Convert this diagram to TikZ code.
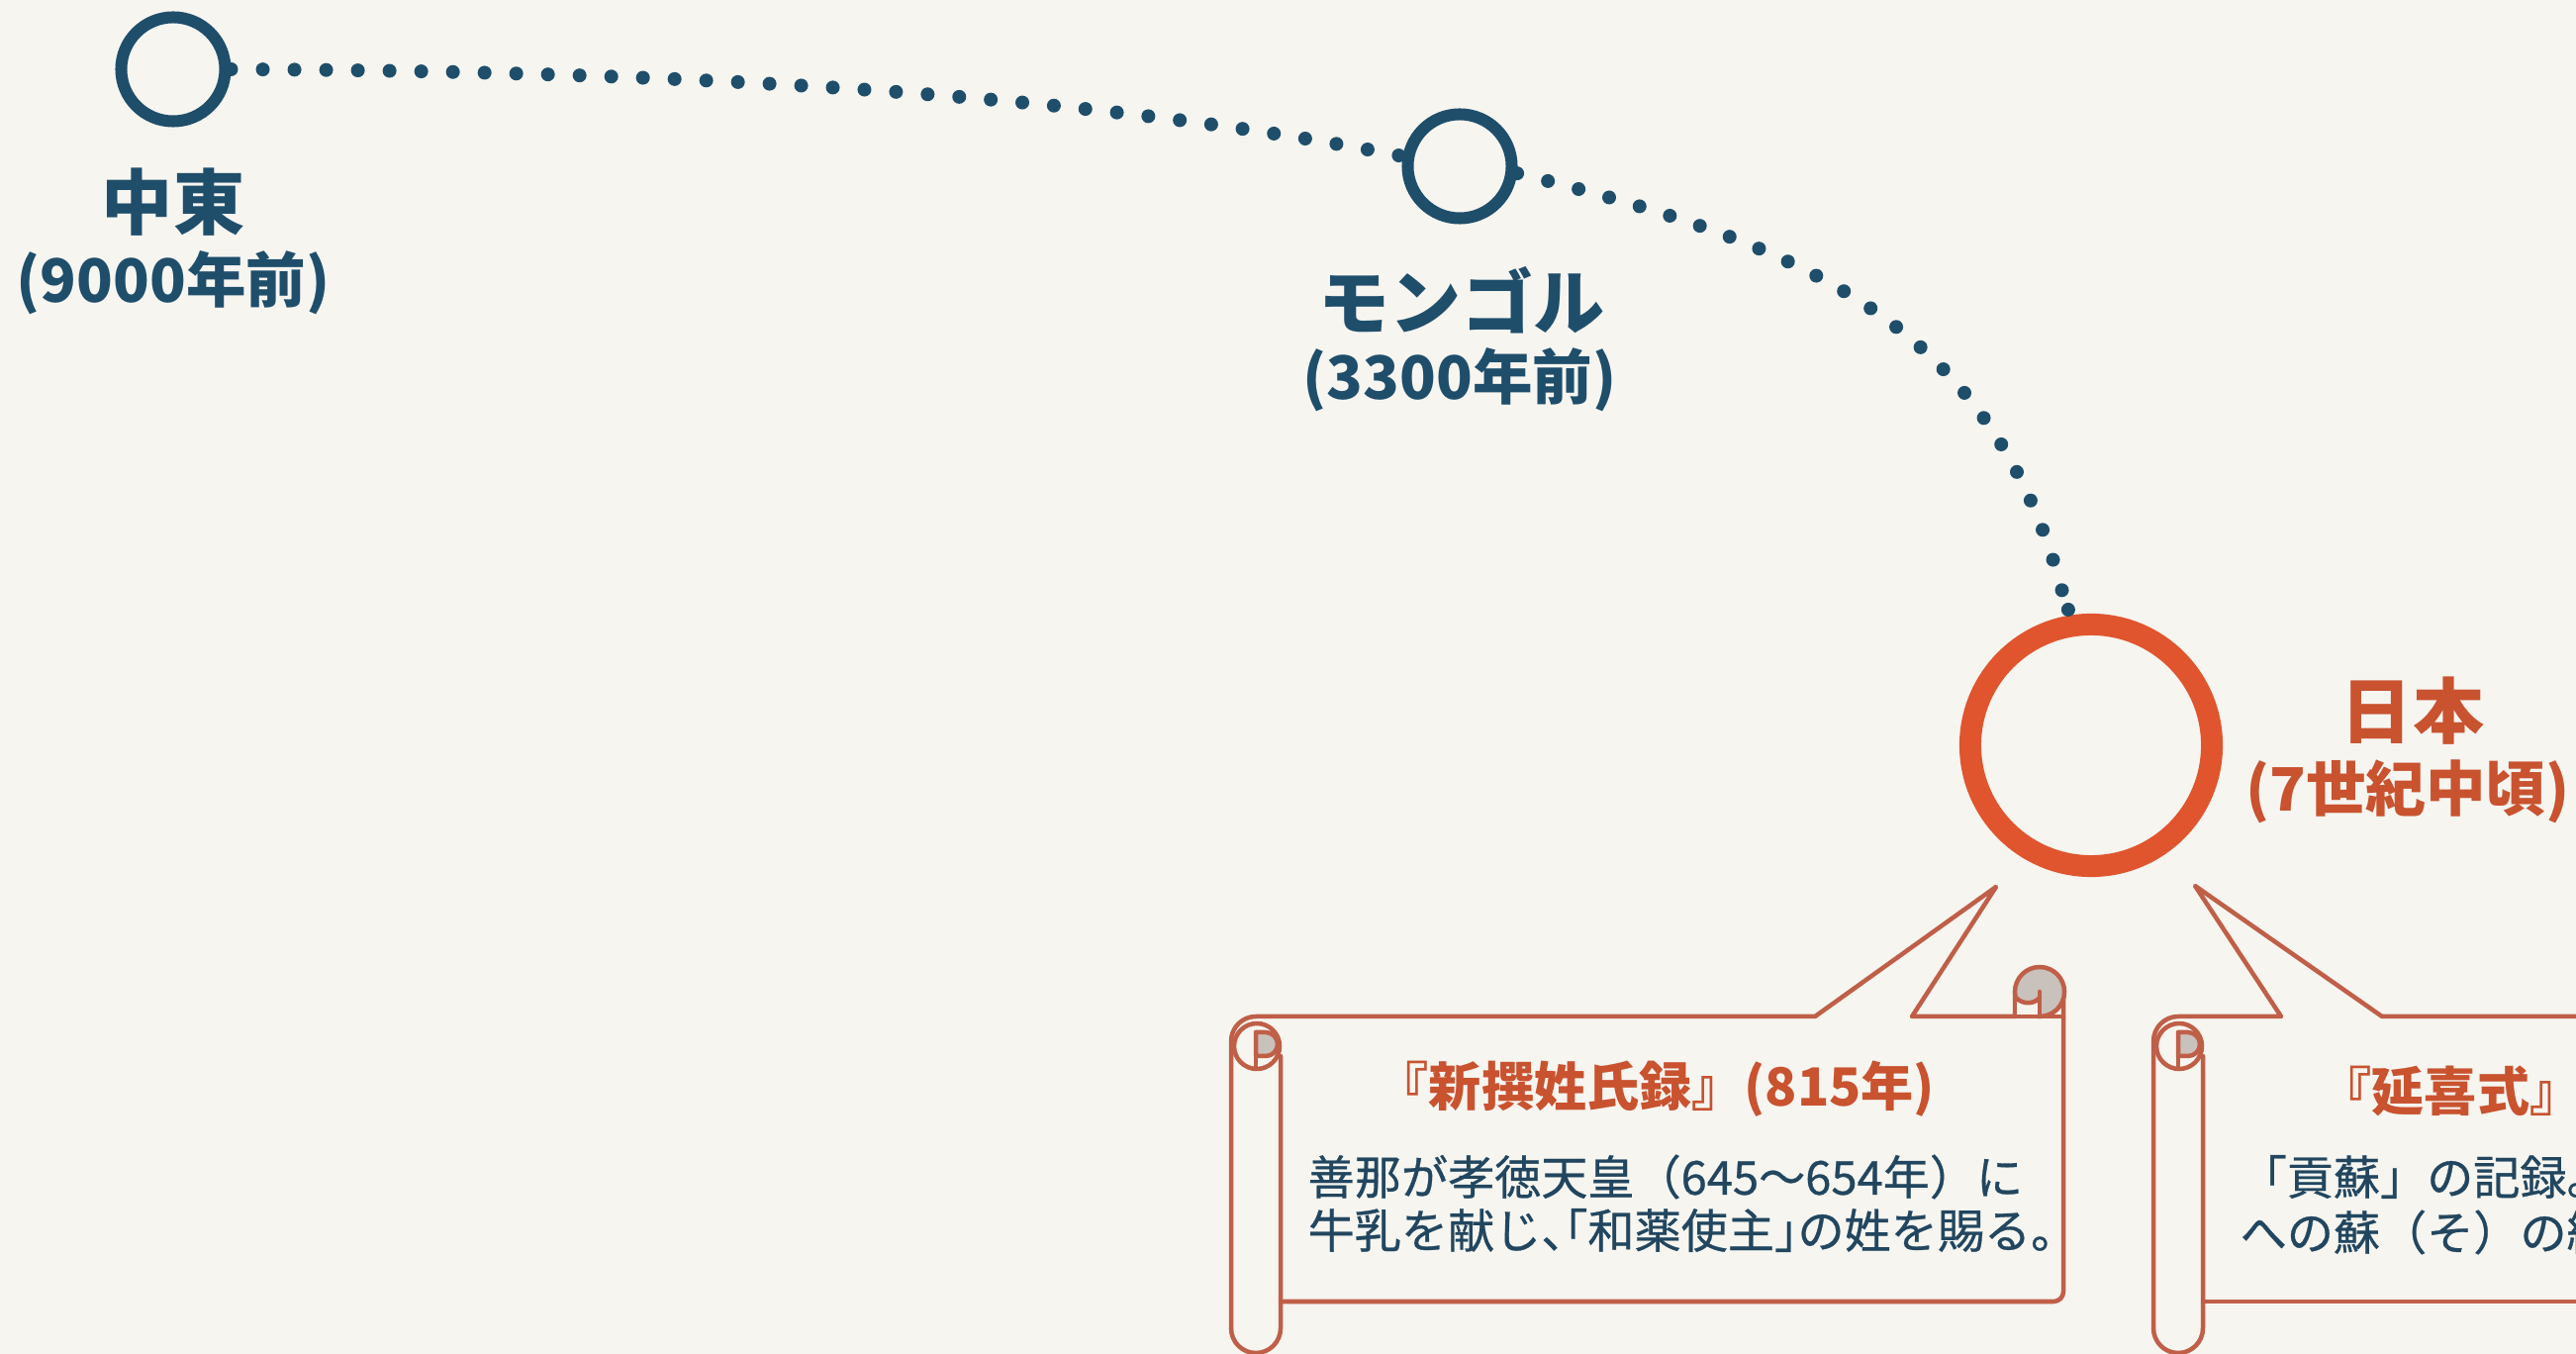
\documentclass[tikz,border=0pt]{standalone}
\usepackage{fontspec}
\newfontfamily\jp{Noto Sans CJK JP}
\newfontfamily\jpbody[FakeBold=0.6]{Noto Sans CJK JP}
\definecolor{bg}{HTML}{F6F5F0}
\definecolor{navy}{HTML}{1F4E6B}
\definecolor{jred}{HTML}{E0552E}
\definecolor{jtext}{HTML}{C9522F}
\definecolor{scrollc}{HTML}{C05F48}
\definecolor{curlgray}{HTML}{C9C1BB}
\definecolor{bodytext}{HTML}{22465F}
\begin{document}
\begin{tikzpicture}[x=0.01cm,y=-0.01cm,
  placec/.style={circle,draw=navy,line width=0.12cm,minimum size=1.05cm,inner sep=0pt},
  japanc/.style={circle,draw=jred,line width=0.22cm,minimum size=2.44cm,inner sep=0pt},
  route/.style={draw=navy,line width=0.14cm,line cap=round,dash pattern=on 0pt off 0.32cm},
  enddot/.style={circle,fill=navy,inner sep=0pt,minimum size=0.14cm},
  head/.style={font={\jp\bfseries\fontsize{20.5}{24}\selectfont},text=navy,inner sep=0pt},
  sublabel/.style={font={\jp\bfseries\fontsize{17.2}{21}\selectfont},text=navy,inner sep=0pt},
  stitle/.style={font={\jp\bfseries\fontsize{15.1}{18}\selectfont},text=jtext,inner sep=0pt},
  sbody/.style={font={\jpbody\fontsize{13.4}{16}\selectfont},text=bodytext,inner sep=0pt,anchor=west},
  scrollline/.style={draw=scrollc,line width=0.045cm,line join=round,line cap=round}
]
\fill[bg] (0,0) rectangle (2603,1368);
\useasboundingbox (0,0) rectangle (2603,1368);
\begin{scope}
\clip (0,0) rectangle (2603,1368);

% places
\node[placec] (me) at (175,70) {};
\node[placec] (mg) at (1475,168) {};
\node[japanc] (jp) at (2113,753) {};

\node[head] (meL) at (175,204) {中東};
\node[sublabel] (meS) at (175,286) {(9000年前)};
\node[head] (mgL) at (1477,303) {モンゴル};
\node[sublabel] (mgS) at (1475,384) {(3300年前)};
\node[head,text=jtext] (jpL) at (2438,718) {日本};
\node[sublabel,text=jtext] (jpS) at (2433,800) {(7世紀中頃)};

% routes
\draw[route] (me.east) .. controls (700,72) and (1100,95) .. (mg.170);
\draw[route] (mg.-7) .. controls (1824,247) and (2022,327) .. (jp.100)
   node[enddot,pos=1,yshift=0.06cm] (jpdot) {};

% scroll 1
\begin{scope}[shift={(1244,1027)}]
  \draw[scrollline] (0,315) -- (0,25) arc[start angle=180,end angle=270,radius=25]
     -- (590,0) -- (773,-131) -- (688,0) -- (792,0) -- (792,-25);
  \draw[scrollline] (0,315) arc[start angle=180,end angle=0,radius=25] -- (50,40);
  \draw[scrollline] (50,288) -- (831,288) arc[start angle=90,end angle=0,radius=10] -- (841,-25);
  % right curl
  \draw[scrollline,fill=curlgray] (817,-25) circle (25);
  \fill[bg] (793,0) -- (793,-19) .. controls (800,-12) and (811,-12) .. (817,-19) -- (817,0) -- cycle;
  \draw[scrollline] (793,-19) .. controls (800,-12) and (811,-12) .. (817,-19);
  \draw[scrollline] (817,-25) -- (817,0);
  \draw[scrollline] (792,-25) -- (792,0) -- (841,0);
  % left curl
  \draw[scrollline] (26,30) circle (23);
  \draw[scrollline,fill=curlgray] (25,16) -- (35,16) arc[start angle=-90,end angle=90,radius=12] -- (25,40) -- cycle;
  \draw[scrollline] (25,16) -- (25,53);
\end{scope}

% scroll 2
\begin{scope}[shift={(2176,1027)}]
  \draw[scrollline] (0,315) -- (0,25) arc[start angle=180,end angle=270,radius=25]
     -- (129,0) -- (42,-132) -- (231,0) -- (600,0);
  \draw[scrollline] (0,315) arc[start angle=180,end angle=0,radius=25] -- (50,40);
  \draw[scrollline] (50,288) -- (600,288);
  % left curl
  \draw[scrollline] (26,30) circle (23);
  \draw[scrollline,fill=curlgray] (25,16) -- (35,16) arc[start angle=-90,end angle=90,radius=12] -- (25,40) -- cycle;
  \draw[scrollline] (25,16) -- (25,53);
\end{scope}

% scroll texts
\node[stitle] (s1t) at (1673,1100) {『新撰姓氏録』(815年)};
\node[sbody] (s1a) at (1321,1189) {善那が孝徳天皇（645〜654年）に};
\node[sbody] (s1b) at (1321,1243) {牛乳を献じ、\kern-1em「和薬使主」\kern-.5em\relax の姓を賜る。};

\node[stitle,anchor=west] (s2t) at (2343,1102) {『延喜式』};
\node[sbody] (s2a) at (2263,1189) {「貢蘇」の記録。};
\node[sbody] (s2b) at (2263,1245) {への蘇（そ）の納};
\end{scope}
\end{tikzpicture}
\end{document}
